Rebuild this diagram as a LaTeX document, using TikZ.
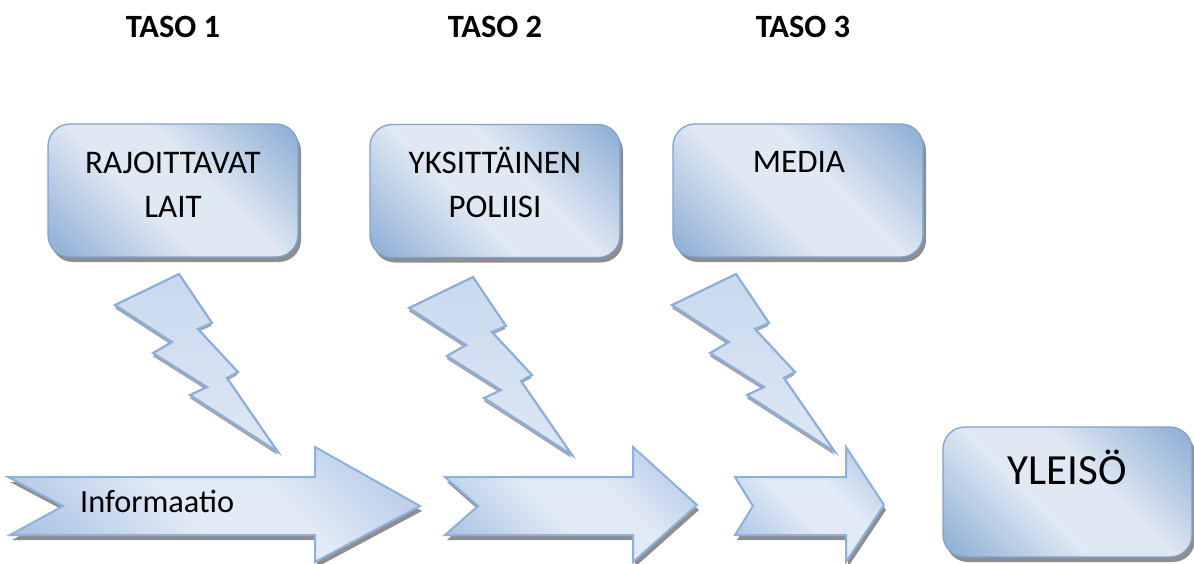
\documentclass[tikz,border=0pt]{standalone}
\usepackage{fontspec}
\setmainfont{Carlito}
\usetikzlibrary{shadows}

\definecolor{bdark}{HTML}{95B3D7}
\definecolor{blight}{HTML}{DFE8F3}
\definecolor{bline}{HTML}{7FA2CF}
\definecolor{adark}{HTML}{A9C2E3}
\definecolor{alight}{HTML}{E1EAF5}
\definecolor{aline}{HTML}{8EB0DC}
\definecolor{ltop}{HTML}{C9D9EE}
\definecolor{lbottom}{HTML}{DDE7F4}
\definecolor{lline}{HTML}{8DAEDB}
\definecolor{shadowgray}{HTML}{8E8E8E}

% diagonal gradient: darker corners, light band across the middle
\pgfdeclarehorizontalshading{officeblue}{100bp}{color(0bp)=(bdark); color(18bp)=(bdark); color(42bp)=(blight); color(58bp)=(blight); color(82bp)=(bdark); color(100bp)=(bdark)}
\pgfdeclarehorizontalshading{arrowblue}{100bp}{color(0bp)=(adark); color(20bp)=(adark); color(45bp)=(alight); color(60bp)=(alight); color(85bp)=(adark); color(100bp)=(adark)}

\tikzset{
  boxshadow/.style={drop shadow={shadow xshift=3pt, shadow yshift=-5pt, fill=shadowgray, opacity=1}},
  stage/.style={draw=bline, line width=1.3pt, rounded corners=22pt, shade, shading=officeblue,
    shading angle=45, minimum width=250pt, minimum height=133pt, inner sep=0pt, boxshadow},
  boxtext/.style={font=\fontsize{33}{40}\selectfont, anchor=base, inner sep=0pt},
  header/.style={font=\fontsize{32.5}{38}\selectfont\bfseries, anchor=base, inner sep=0pt},
  blockarrow/.style={draw=aline, line width=2pt, line join=miter, shade, shading=arrowblue,
    shading angle=45, drop shadow={shadow xshift=2pt, shadow yshift=-5pt, fill=shadowgray, opacity=1}},
  boltstyle/.style={draw=lline, line width=2.2pt, line join=miter, top color=ltop, bottom color=lbottom,
    drop shadow={shadow xshift=-0.5pt, shadow yshift=-3pt, fill=shadowgray!80, opacity=1}},
  pics/lightning/.style={code={
    \draw[boltstyle] (115,305) -- (179,274) -- (212,323) -- (198,329) -- (238,372) -- (227,378)
      -- (278,452) -- (190,395) -- (207,387) -- (153,353) -- (172,342) -- cycle;
  }}
}

\begin{document}
\begin{tikzpicture}[x=1pt, y=-1pt]
\useasboundingbox (0,0) rectangle (1194,563);

% level headings
\node[header] (h1) at (173,37) {TASO 1};
\node[header] (h2) at (495,37) {TASO 2};
\node[header] (h3) at (803,37) {TASO 3};

% influencing factors
\node[stage] (b1) at (173,190.5) {};
\node[stage] (b2) at (495,191) {};
\node[stage] (b3) at (798,190.5) {};
\node[boxtext] (b1a) at (173,173) {RAJOITTAVAT};
\node[boxtext] (b1b) at (173,217) {LAIT};
\node[boxtext] (b2a) at (495,173) {YKSITTÄINEN};
\node[boxtext] (b2b) at (495,217) {POLIISI};
\node[boxtext] (b3a) at (799,172) {MEDIA};

% lightning strikes on the information flow
\pic at (0,0) {lightning};
\pic at (294,3) {lightning};
\pic at (557,0) {lightning};

% information flow
\draw[blockarrow] (8,477) -- (315,477) -- (315,447) -- (420,506) -- (315,562) -- (315,535)
  -- (10,535) -- (63,506) -- cycle;
\draw[blockarrow] (445,477) -- (633,477) -- (633,447) -- (697,505) -- (633,562) -- (633,535)
  -- (445,535) -- (478,506) -- cycle;
\draw[blockarrow] (735,477) -- (846,477) -- (846,447) -- (884,505) -- (846,562) -- (846,535)
  -- (735,535) -- (753,506) -- cycle;
\node[boxtext, anchor=base west, font=\fontsize{32.3}{39}\selectfont] (info) at (80,512) {Informaatio};

% audience
\node[stage, minimum width=249pt, minimum height=130pt] (yl) at (1067.5,492) {};
\node[boxtext, font=\fontsize{43}{51}\selectfont] (yla) at (1067,484) {YLEISÖ};
\end{tikzpicture}
\end{document}
